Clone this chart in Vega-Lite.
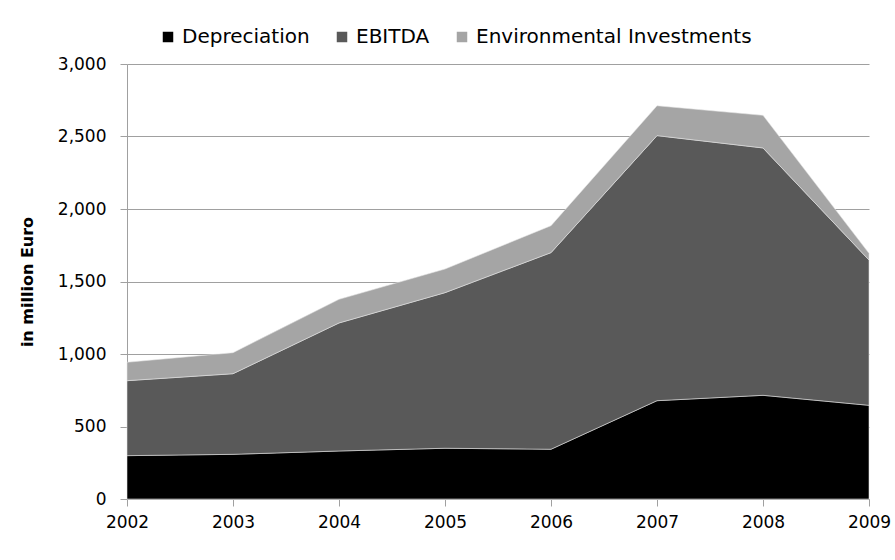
{
  "$schema": "https://vega.github.io/schema/vega-lite/v6.json",
  "width": 742,
  "height": 435,
  "autosize": {"type": "none"},
  "padding": {"left": 127, "top": 64, "right": 26, "bottom": 61},
  "background": "white",
  "config": {
    "view": {"stroke": null},
    "font": "DejaVu Sans",
    "axis": {"labelFont": "DejaVu Sans", "labelColor": "#000000", "titleFont": "DejaVu Sans"}
  },
  "data": {
    "values": [
      {"year": 2002, "series": "Depreciation", "value": 299, "ord": 1},
      {"year": 2003, "series": "Depreciation", "value": 308, "ord": 1},
      {"year": 2004, "series": "Depreciation", "value": 331, "ord": 1},
      {"year": 2005, "series": "Depreciation", "value": 350, "ord": 1},
      {"year": 2006, "series": "Depreciation", "value": 343, "ord": 1},
      {"year": 2007, "series": "Depreciation", "value": 678, "ord": 1},
      {"year": 2008, "series": "Depreciation", "value": 715, "ord": 1},
      {"year": 2009, "series": "Depreciation", "value": 646, "ord": 1},
      {"year": 2002, "series": "EBITDA", "value": 517, "ord": 2},
      {"year": 2003, "series": "EBITDA", "value": 556, "ord": 2},
      {"year": 2004, "series": "EBITDA", "value": 883, "ord": 2},
      {"year": 2005, "series": "EBITDA", "value": 1073, "ord": 2},
      {"year": 2006, "series": "EBITDA", "value": 1356, "ord": 2},
      {"year": 2007, "series": "EBITDA", "value": 1828, "ord": 2},
      {"year": 2008, "series": "EBITDA", "value": 1706, "ord": 2},
      {"year": 2009, "series": "EBITDA", "value": 1002, "ord": 2},
      {"year": 2002, "series": "Environmental Investments", "value": 127, "ord": 3},
      {"year": 2003, "series": "Environmental Investments", "value": 145, "ord": 3},
      {"year": 2004, "series": "Environmental Investments", "value": 163, "ord": 3},
      {"year": 2005, "series": "Environmental Investments", "value": 163, "ord": 3},
      {"year": 2006, "series": "Environmental Investments", "value": 186, "ord": 3},
      {"year": 2007, "series": "Environmental Investments", "value": 206, "ord": 3},
      {"year": 2008, "series": "Environmental Investments", "value": 225, "ord": 3},
      {"year": 2009, "series": "Environmental Investments", "value": 46, "ord": 3}
    ]
  },
  "mark": {"type": "area", "stroke": "#e6e6e6", "strokeWidth": 0.7, "strokeOpacity": 0.8},
  "encoding": {
    "x": {
      "field": "year",
      "type": "quantitative",
      "scale": {"domain": [2002, 2009], "nice": false, "zero": false},
      "axis": {
        "title": null,
        "values": [2002, 2003, 2004, 2005, 2006, 2007, 2008, 2009],
        "format": "d",
        "grid": false,
        "domainColor": "#a0a0a0",
        "tickColor": "#a0a0a0",
        "tickSize": 7,
        "labelFontSize": 17,
        "labelPadding": 8,
        "labelFlush": false
      }
    },
    "y": {
      "field": "value",
      "type": "quantitative",
      "stack": "zero",
      "scale": {"domain": [0, 3000], "nice": false},
      "axis": {
        "title": "in million Euro",
        "titleFontSize": 16,
        "titleFontWeight": "bold",
        "titleColor": "#000000",
        "titlePadding": 22,
        "values": [0, 500, 1000, 1500, 2000, 2500, 3000],
        "format": ",d",
        "gridColor": "#a0a0a0",
        "gridWidth": 1,
        "domainColor": "#a0a0a0",
        "tickColor": "#a0a0a0",
        "tickSize": 7,
        "labelFontSize": 17,
        "labelPadding": 14
      }
    },
    "color": {
      "field": "series",
      "type": "nominal",
      "scale": {
        "domain": ["Depreciation", "EBITDA", "Environmental Investments"],
        "range": ["#000000", "#595959", "#a5a5a5"]
      },
      "legend": {
        "title": null,
        "orient": "none",
        "direction": "horizontal",
        "legendX": 31,
        "legendY": -37,
        "symbolType": "square",
        "symbolSize": 110,
        "symbolStrokeWidth": 0,
        "labelFontSize": 20,
        "labelColor": "#000000",
        "labelOffset": 4,
        "columnPadding": 22,
        "labelLimit": 400
      }
    },
    "order": {"field": "ord", "type": "quantitative"}
  }
}
